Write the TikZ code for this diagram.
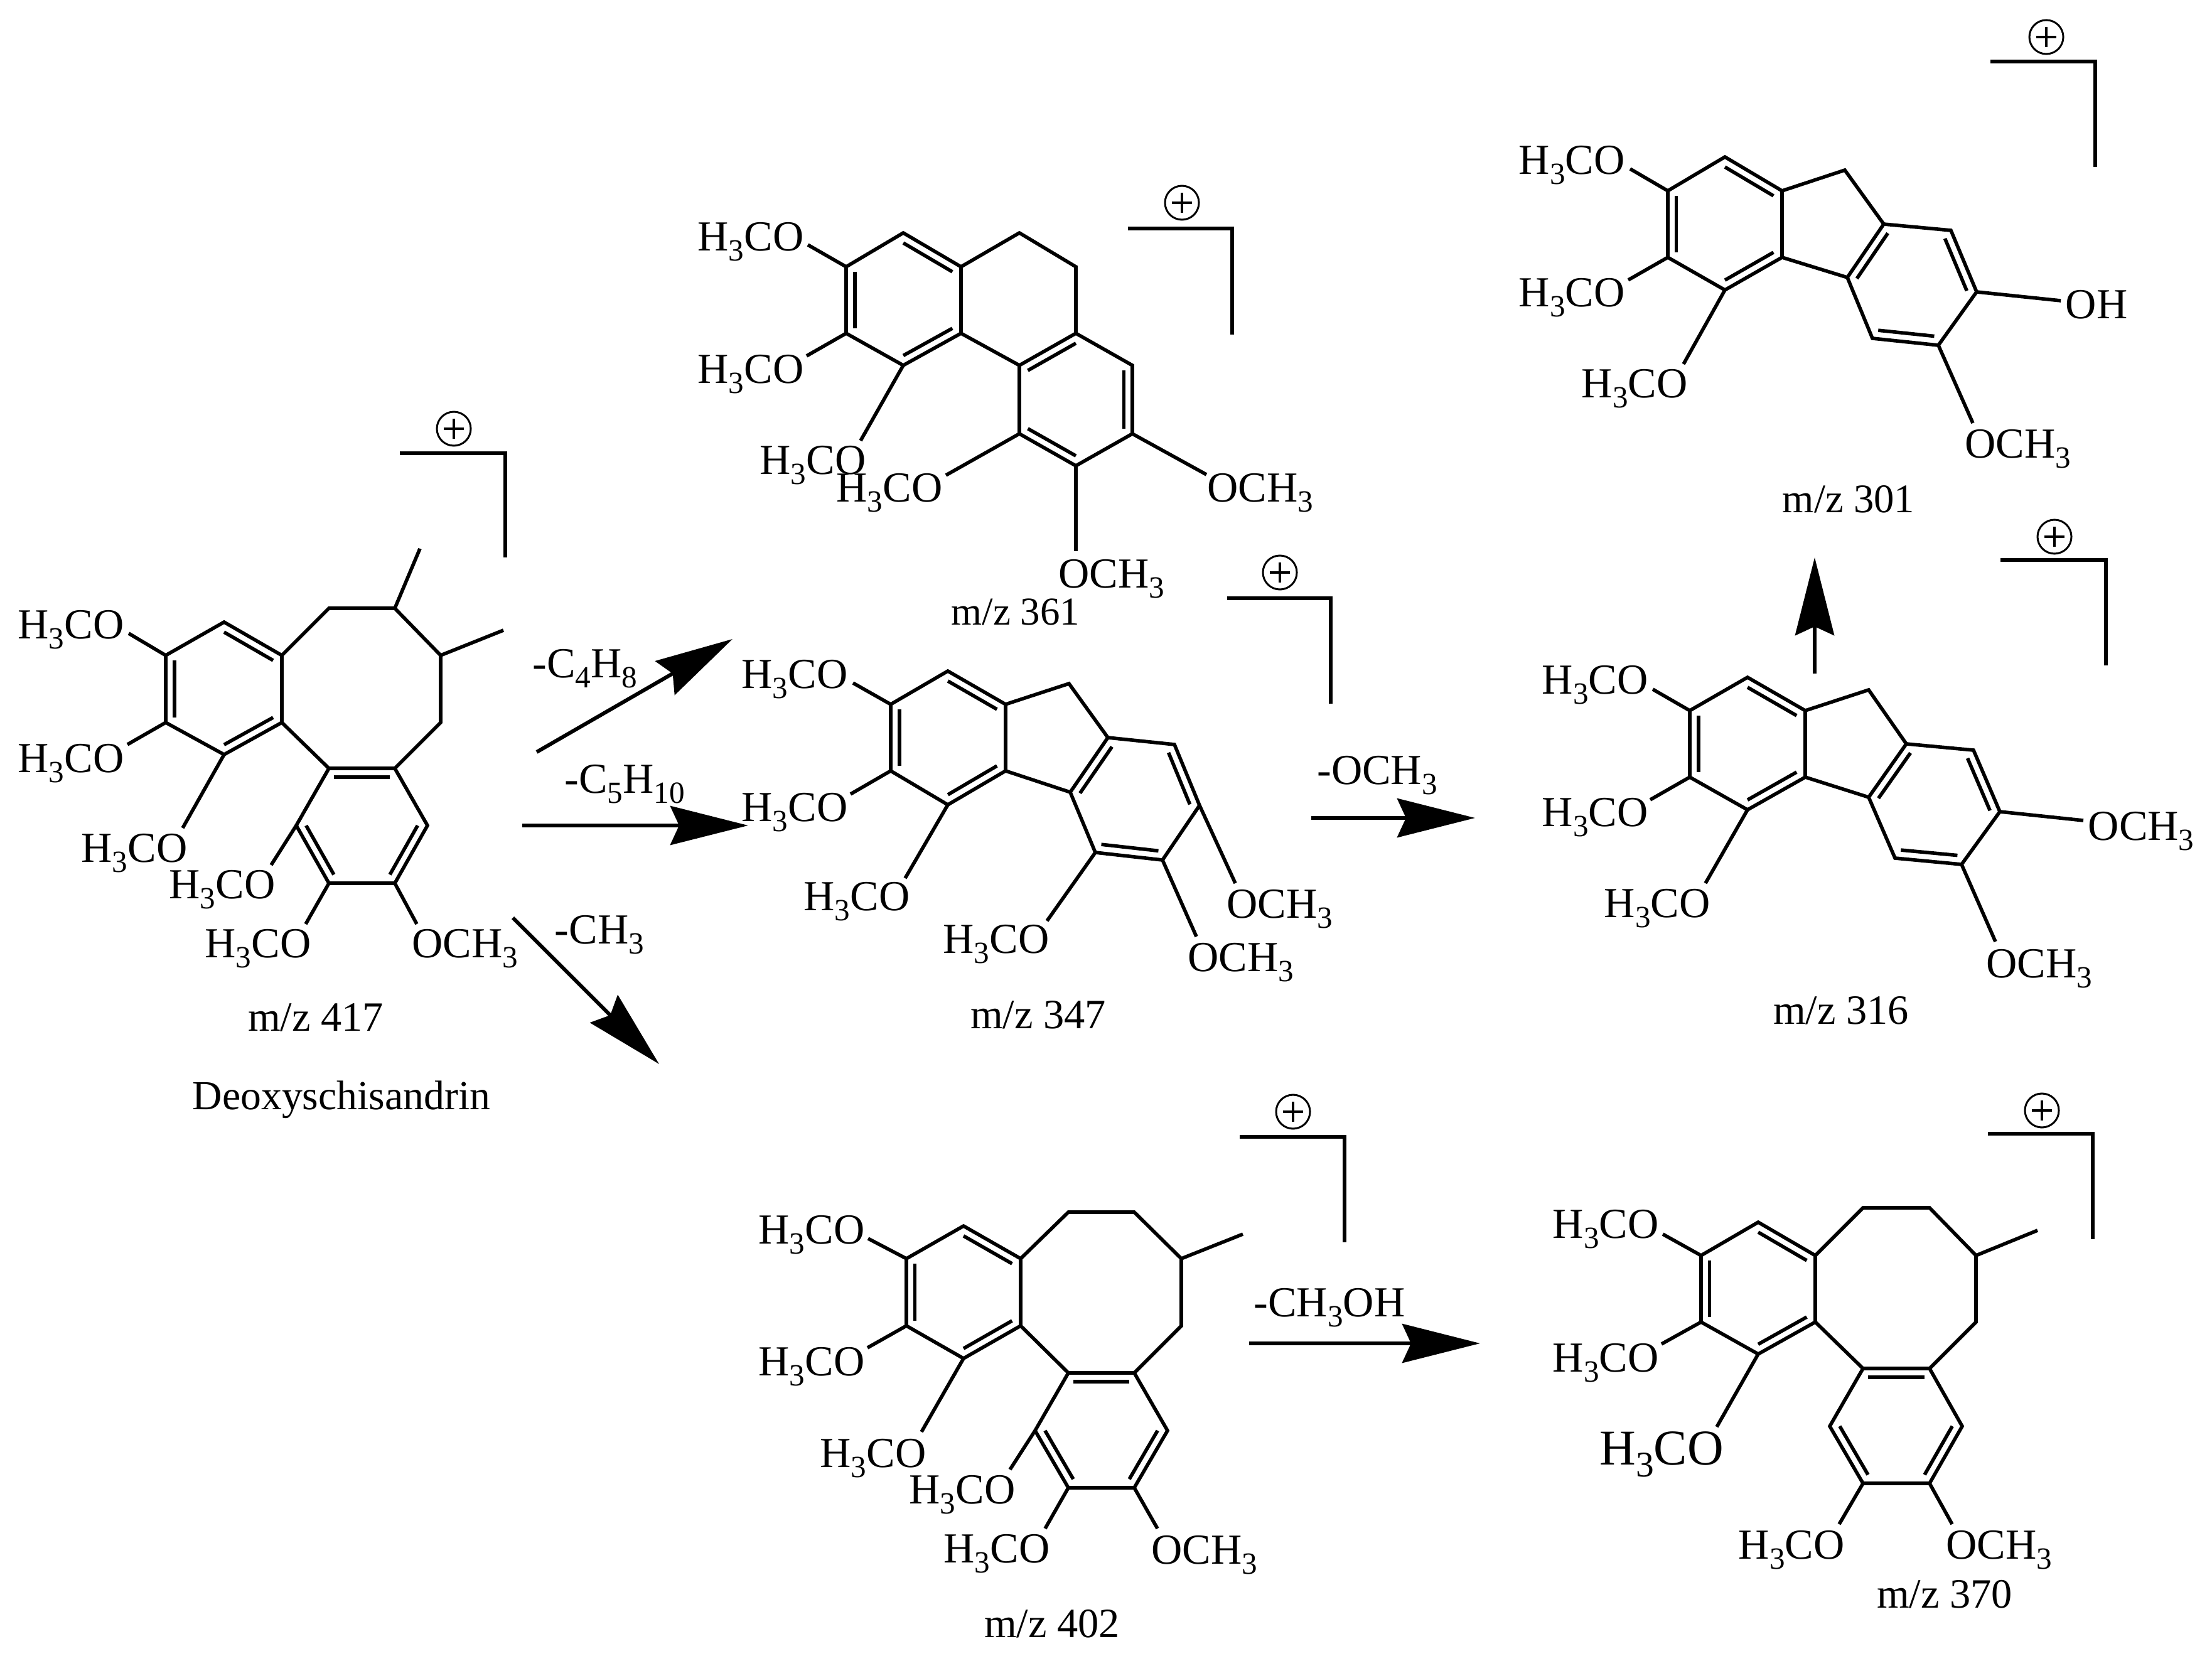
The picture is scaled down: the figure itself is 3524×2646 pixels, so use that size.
\documentclass[tikz,border=0pt]{standalone}
\usepackage{fontspec}
\setmainfont{Liberation Serif}
\usetikzlibrary{calc,arrows.meta}
\newcommand{\lsb}[1]{\raisebox{-.24em}{\scalebox{.72}{#1}}}
\newcommand{\Hm}{H\lsb{3}CO}
\newcommand{\Om}{OCH\lsb{3}}
\tikzset{
  x=0.01cm,y=-0.01cm,
  bond/.style={line width=.056cm,line join=miter,line cap=butt},
  brk/.style={line width=.06cm,line join=miter},
  lbl/.style={inner sep=0pt,text height=.44cm,text depth=0pt,font=\fontsize{19.4}{20}\selectfont},
  mzlbl/.style={inner sep=0pt,text height=.40cm,text depth=0pt,font=\fontsize{#1}{20}\selectfont},
  mzlbl/.default=18.9,
  biglbl/.style={inner sep=0pt,text height=.52cm,text depth=0pt,font=\fontsize{22.7}{24}\selectfont},
  bigarrow/.style={line width=.06cm,-{Stealth[length=1.24cm,width=.62cm,inset=.14cm]}},
  plusmark/.style={circle,draw,line width=.03cm,minimum size=.54cm,inner sep=0pt,
    path picture={\draw[line width=.035cm]
      ($(path picture bounding box.center)+(-16,0)$) -- ($(path picture bounding box.center)+(16,0)$)
      ($(path picture bounding box.center)+(0,-16)$) -- ($(path picture bounding box.center)+(0,16)$);}},
}
% inner line of a double bond, pulled toward the ring centre
\newcommand{\dbl}[3]{\draw[bond] ($(#1)!.15!(#3)$) -- ($(#2)!.15!(#3)$);}
% single bond from an atom to a named free end
\newcommand{\sbd}[3]{\coordinate (#3) at (#2); \draw[bond] (#1) -- (#3);}
% the dimethoxy-benzene ring a..f
\newcommand{\benz}[1]{%
  \coordinate (#1r) at ($(#1a)!.5!(#1d)$);
  \draw[bond] (#1a)--(#1b)--(#1c)--(#1d)--(#1e)--(#1f)--cycle;
  \dbl{#1a}{#1f}{#1r}\dbl{#1b}{#1c}{#1r}\dbl{#1d}{#1e}{#1r}}
% five-ring fused: c-g-h, ring h..m
\newcommand{\fluo}[1]{%
  \benz{#1}
  \coordinate (#1s) at ($(#1h)!.5!(#1k)$);
  \draw[bond] (#1c)--(#1g)--(#1h);
  \draw[bond] (#1h)--(#1i)--(#1j)--(#1k)--(#1l)--(#1m)--cycle;
  \draw[bond] (#1d)--(#1m);
  \dbl{#1h}{#1m}{#1s}\dbl{#1i}{#1j}{#1s}\dbl{#1k}{#1l}{#1s}}
% eight-ring: c-g-h-i-j-k-l-d, ring k,m,n,o,p,l
\newcommand{\octa}[1]{%
  \benz{#1}
  \coordinate (#1s) at ($(#1k)!.5!(#1o)$);
  \draw[bond] (#1c)--(#1g)--(#1h)--(#1i)--(#1j)--(#1k);
  \draw[bond] (#1d)--(#1l);
  \draw[bond] (#1k)--(#1m)--(#1n)--(#1o)--(#1p)--(#1l)--cycle;
  \dbl{#1k}{#1l}{#1s}\dbl{#1m}{#1n}{#1s}\dbl{#1o}{#1p}{#1s}}
% atoms a..f
\newcommand{\atomsA}[7]{%
  \coordinate (#1a) at (#2); \coordinate (#1b) at (#3); \coordinate (#1c) at (#4);
  \coordinate (#1d) at (#5); \coordinate (#1e) at (#6); \coordinate (#1f) at (#7);}
% bracket with the charge
\newcommand{\chgbr}[5]{%
  \coordinate (#1u) at (#2); \coordinate (#1v) at (#3); \coordinate (#1w) at (#4);
  \draw[brk] (#1u) -- (#1v) -- (#1w);
  \node[plusmark] (#1plus) at (#5) {};}
\begin{document}
\begin{tikzpicture}
\useasboundingbox (0,0) rectangle (3524,2646);

% ---------- m/z 417
\atomsA{A}{264,1044}{357,991}{449,1044}{449,1151}{357,1202}{264,1151}
\coordinate (Ag) at (524,969); \coordinate (Ah) at (629,969); \coordinate (Ai) at (702,1044);
\coordinate (Aj) at (702,1151); \coordinate (Ak) at (629,1224); \coordinate (Al) at (524,1224);
\coordinate (Am) at (681,1315); \coordinate (An) at (629,1407); \coordinate (Ao) at (524,1407);
\coordinate (Ap) at (472,1315);
\octa{A}
\sbd{Ah}{669,874}{Ame1} \sbd{Ai}{802,1004}{Ame2}
\sbd{Aa}{205,1009}{Ae1} \sbd{Af}{203,1186}{Ae2} \sbd{Ae}{291,1319}{Ae3}
\sbd{Ap}{432,1378}{Ae4} \sbd{Ao}{487,1472}{Ae5} \sbd{An}{664,1472}{Ae6}
\node[lbl] (Al1) at (113,995) {\Hm};
\node[lbl] (Al2) at (113,1208) {\Hm};
\node[lbl] (Al3) at (214,1351) {\Hm};
\node[lbl] (Al4) at (354,1409) {\Hm};
\node[lbl] (Al5) at (411,1503) {\Hm};
\node[lbl] (Al6) at (741,1503) {\Om};
\node[mzlbl] (Amz) at (503,1622) {m/z 417};
\node[mzlbl=18.7] (Aname) at (544,1747) {Deoxyschisandrin};
\chgbr{A}{637,722}{805,722}{805,888}{723,683}

% ---------- m/z 361
\atomsA{B}{1348,425}{1439,371}{1531,425}{1531,531}{1439,582}{1348,531}
\benz{B}
\coordinate (Bg) at (1624,371); \coordinate (Bh) at (1714,425); \coordinate (Bi) at (1714,531);
\coordinate (Bj) at (1624,582); \coordinate (Bk) at (1804,582); \coordinate (Bl) at (1804,691);
\coordinate (Bm) at (1714,742); \coordinate (Bn) at (1624,691);
\coordinate (Bs) at ($(Bi)!.5!(Bm)$);
\draw[bond] (Bc)--(Bg)--(Bh)--(Bi);
\draw[bond] (Bd)--(Bj);
\draw[bond] (Bi)--(Bk)--(Bl)--(Bm)--(Bn)--(Bj)--cycle;
\dbl{Bi}{Bj}{Bs}\dbl{Bk}{Bl}{Bs}\dbl{Bm}{Bn}{Bs}
\sbd{Ba}{1287,390}{Be1} \sbd{Bf}{1285,567}{Be2} \sbd{Be}{1371,702}{Be3}
\sbd{Bn}{1507,757}{Be4} \sbd{Bl}{1922,756}{Be5} \sbd{Bm}{1714,878}{Be6}
\node[lbl] (Bl1) at (1196,377) {\Hm};
\node[lbl] (Bl2) at (1196,588) {\Hm};
\node[lbl] (Bl3) at (1295,733) {\Hm};
\node[lbl] (Bl4) at (1417,777) {\Hm};
\node[lbl] (Bl5) at (2008,777) {\Om};
\node[lbl] (Bl6) at (1771,914) {\Om};
\node[mzlbl=17.9] (Bmz) at (1618,975) {m/z 361};
\chgbr{B}{1797,364}{1963,364}{1963,533}{1883,323}

% ---------- m/z 347
\atomsA{C}{1419,1122}{1510,1069}{1602,1122}{1602,1228}{1510,1282}{1419,1228}
\coordinate (Cg) at (1703,1089); \coordinate (Ch) at (1765,1175); \coordinate (Ci) at (1871,1186);
\coordinate (Cj) at (1911,1283); \coordinate (Ck) at (1852,1370); \coordinate (Cl) at (1745,1358);
\coordinate (Cm) at (1705,1262);
\fluo{C}
\sbd{Ca}{1359,1088}{Ce1} \sbd{Cf}{1355,1265}{Ce2} \sbd{Ce}{1442,1399}{Ce3}
\sbd{Cl}{1668,1467}{Ce4} \sbd{Ck}{1906,1492}{Ce5} \sbd{Cj}{1968,1407}{Ce6}
\node[lbl] (Cl1) at (1266,1074) {\Hm};
\node[lbl] (Cl2) at (1266,1286) {\Hm};
\node[lbl] (Cl3) at (1365,1428) {\Hm};
\node[lbl] (Cl4) at (1587,1496) {\Hm};
\node[lbl] (Cl5) at (1977,1525) {\Om};
\node[lbl] (Cl6) at (2039,1440) {\Om};
\node[mzlbl] (Cmz) at (1654,1618) {m/z 347};
\chgbr{C}{1955,953}{2120,953}{2120,1121}{2039,912}

% ---------- m/z 301
\atomsA{D}{2657,304}{2748,250}{2839,304}{2839,410}{2748,462}{2657,410}
\coordinate (Dg) at (2939,271); \coordinate (Dh) at (3001,357); \coordinate (Di) at (3108,367);
\coordinate (Dj) at (3149,465); \coordinate (Dk) at (3088,550); \coordinate (Dl) at (2983,539);
\coordinate (Dm) at (2943,442);
\fluo{D}
\sbd{Da}{2597,269}{De1} \sbd{Df}{2594,446}{De2} \sbd{De}{2682,580}{De3}
\sbd{Dj}{3283,479}{De4} \sbd{Dk}{3143,674}{De5}
\node[lbl] (Dl1) at (2504,255) {\Hm};
\node[lbl] (Dl2) at (2504,466) {\Hm};
\node[lbl] (Dl3) at (2604,611) {\Hm};
\node[lbl] (Dl4) at (3340,485) {OH};
\node[lbl] (Dl5) at (3215,707) {\Om};
\node[mzlbl=18.4] (Dmz) at (2945,796) {m/z 301};
\chgbr{D}{3171,98}{3338,98}{3338,266}{3260,59}

% ---------- m/z 316
\atomsA{E}{2692,1132}{2784,1079}{2876,1132}{2876,1238}{2784,1290}{2692,1238}
\coordinate (Eg) at (2977,1099); \coordinate (Eh) at (3037,1185); \coordinate (Ei) at (3144,1195);
\coordinate (Ej) at (3186,1293); \coordinate (Ek) at (3125,1377); \coordinate (El) at (3019,1367);
\coordinate (Em) at (2977,1270);
\fluo{E}
\sbd{Ea}{2633,1098}{Ee1} \sbd{Ef}{2629,1274}{Ee2} \sbd{Ee}{2717,1407}{Ee3}
\sbd{Ej}{3319,1307}{Ee4} \sbd{Ek}{3179,1500}{Ee5}
\node[lbl] (El1) at (2541,1083) {\Hm};
\node[lbl] (El2) at (2541,1294) {\Hm};
\node[lbl] (El3) at (2640,1439) {\Hm};
\node[lbl] (El4) at (3411,1316) {\Om};
\node[lbl] (El5) at (3249,1535) {\Om};
\node[mzlbl] (Emz) at (2933,1611) {m/z 316};
\chgbr{E}{3187,892}{3355,892}{3355,1060}{3273,855}

% ---------- m/z 402
\atomsA{F}{1444,2005}{1535,1953}{1626,2005}{1626,2112}{1535,2164}{1444,2112}
\coordinate (Fg) at (1702,1931); \coordinate (Fh) at (1807,1931); \coordinate (Fi) at (1882,2005);
\coordinate (Fj) at (1882,2112); \coordinate (Fk) at (1807,2187); \coordinate (Fl) at (1702,2187);
\coordinate (Fm) at (1860,2279); \coordinate (Fn) at (1807,2370); \coordinate (Fo) at (1702,2370);
\coordinate (Fp) at (1649,2279);
\octa{F}
\sbd{Fi}{1980,1966}{Fme}
\sbd{Fa}{1383,1973}{Fe1} \sbd{Ff}{1382,2147}{Fe2} \sbd{Fe}{1468,2281}{Fe3}
\sbd{Fp}{1609,2341}{Fe4} \sbd{Fo}{1665,2435}{Fe5} \sbd{Fn}{1844,2435}{Fe6}
\node[lbl] (Fl1) at (1293,1959) {\Hm};
\node[lbl] (Fl2) at (1293,2169) {\Hm};
\node[lbl] (Fl3) at (1391,2315) {\Hm};
\node[lbl] (Fl4) at (1533,2373) {\Hm};
\node[lbl] (Fl5) at (1588,2467) {\Hm};
\node[lbl] (Fl6) at (1919,2469) {\Om};
\node[mzlbl] (Fmz) at (1676,2588) {m/z 402};
\chgbr{F}{1975,1811}{2142,1811}{2142,1979}{2060,1771}

% ---------- m/z 370
\atomsA{G}{2710,2000}{2801,1947}{2892,2000}{2892,2106}{2801,2157}{2710,2106}
\coordinate (Gg) at (2968,1924); \coordinate (Gh) at (3074,1924); \coordinate (Gi) at (3148,2000);
\coordinate (Gj) at (3148,2106); \coordinate (Gk) at (3074,2180); \coordinate (Gl) at (2968,2180);
\coordinate (Gm) at (3126,2272); \coordinate (Gn) at (3074,2363); \coordinate (Go) at (2968,2363);
\coordinate (Gp) at (2915,2272);
\octa{G}
\sbd{Gi}{3246,1960}{Gme}
\sbd{Ga}{2649,1966}{Ge1} \sbd{Gf}{2647,2141}{Ge2} \sbd{Ge}{2735,2273}{Ge3}
\sbd{Go}{2930,2428}{Ge4} \sbd{Gn}{3110,2428}{Ge5}
\node[lbl] (Gl1) at (2558,1950) {\Hm};
\node[lbl] (Gl2) at (2558,2163) {\Hm};
\node[biglbl] (Gl3) at (2647,2307) {\Hm};
\node[lbl] (Gl4) at (2854,2461) {\Hm};
\node[lbl] (Gl5) at (3185,2461) {\Om};
\node[mzlbl] (Gmz) at (3098,2541) {m/z 370};
\chgbr{G}{3167,1806}{3334,1806}{3334,1974}{3253,1769}

% ---------- reaction arrows
\coordinate (r1a) at (855,1198); \coordinate (r1b) at (1167,1018);
\draw[bigarrow] (r1a) -- (r1b);
\node[lbl] (r1t) at (932,1057) {-C\lsb{4}H\lsb{8}};
\coordinate (r2a) at (832,1315); \coordinate (r2b) at (1192,1315);
\draw[bigarrow] (r2a) -- (r2b);
\node[lbl] (r2t) at (995,1241) {-C\lsb{5}H\lsb{10}};
\coordinate (r3a) at (817,1462); \coordinate (r3b) at (1050,1695);
\draw[bigarrow] (r3a) -- (r3b);
\node[lbl] (r3t) at (955,1481) {-CH\lsb{3}};
\coordinate (r4a) at (2089,1303); \coordinate (r4b) at (2350,1303);
\draw[bigarrow] (r4a) -- (r4b);
\node[lbl] (r4t) at (2194,1227) {-\Om};
\coordinate (r5a) at (2891,1073); \coordinate (r5b) at (2891,888);
\draw[bigarrow] (r5a) -- (r5b);
\coordinate (r6a) at (1990,2140); \coordinate (r6b) at (2358,2140);
\draw[bigarrow] (r6a) -- (r6b);
\node[lbl] (r6t) at (2118,2075) {-CH\lsb{3}OH};
\end{tikzpicture}
\end{document}
